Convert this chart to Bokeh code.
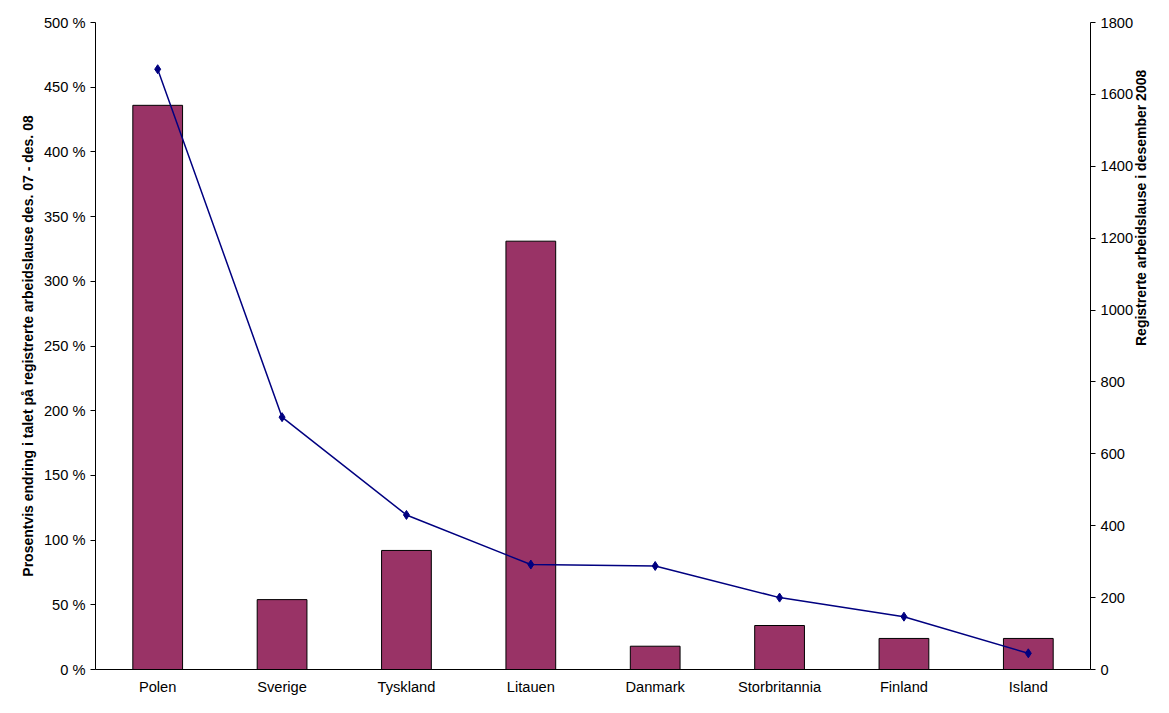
from bokeh.embed import file_html
from bokeh.resources import INLINE
from bokeh.plotting import figure
from bokeh.models import Range1d, LinearAxis, PrintfTickFormatter, FixedTicker

land = ["Polen", "Sverige", "Tyskland", "Litauen", "Danmark", "Storbritannia", "Finland", "Island"]
endring_pst = [436, 54, 92, 331, 18, 34, 24, 24]
arbeidslause = [1670, 702, 430, 292, 288, 200, 147, 45]

p = figure(x_range=land, y_range=Range1d(0, 500), width=1160, height=697,
           output_backend="svg", toolbar_location=None,
           min_border_left=95, min_border_right=40, min_border_top=22, min_border_bottom=23)
p.extra_y_ranges = {"right": Range1d(0, 1800)}
p.outline_line_color = None
p.xgrid.grid_line_color = None
p.ygrid.grid_line_color = None
p.x_range.range_padding = 0

p.vbar(x=land, top=endring_pst, width=0.4, fill_color="#993366", line_color="black")
p.line(land, arbeidslause, y_range_name="right", line_color="#000080", line_width=1.5)
p.scatter(land, arbeidslause, y_range_name="right", marker="diamond", size=9,
          fill_color="#000080", line_color="#000080")

ra = LinearAxis(y_range_name="right", ticker=FixedTicker(ticks=list(range(0, 1801, 200))))
p.add_layout(ra, "right")

p.yaxis[0].ticker = FixedTicker(ticks=list(range(0, 501, 50)))
p.yaxis[0].formatter = PrintfTickFormatter(format="%d %%")
p.yaxis[0].axis_label = "Prosentvis endring i talet på registrerte arbeidslause des. 07 - des. 08"
ra.axis_label = "Registrerte arbeidslause i desember 2008"
ra.axis_label_orientation = 1.5707963

for ax in p.xaxis + p.yaxis:
    ax.major_label_text_font = "Liberation Sans"
    ax.major_label_text_font_size = "11pt"
    ax.major_label_text_color = "black"
    ax.axis_label_text_font = "Liberation Sans"
    ax.axis_label_text_font_size = "10.5pt"
    ax.axis_label_text_font_style = "bold"
    ax.axis_label_text_color = "black"
    ax.axis_line_color = "black"
    ax.major_tick_line_color = "black"
    ax.minor_tick_line_color = None
    ax.major_tick_out = 5
    ax.major_tick_in = 0
p.xaxis.major_tick_line_color = None
p.xaxis.major_label_standoff = 4

open("out.html", "w").write(file_html(p, INLINE))
